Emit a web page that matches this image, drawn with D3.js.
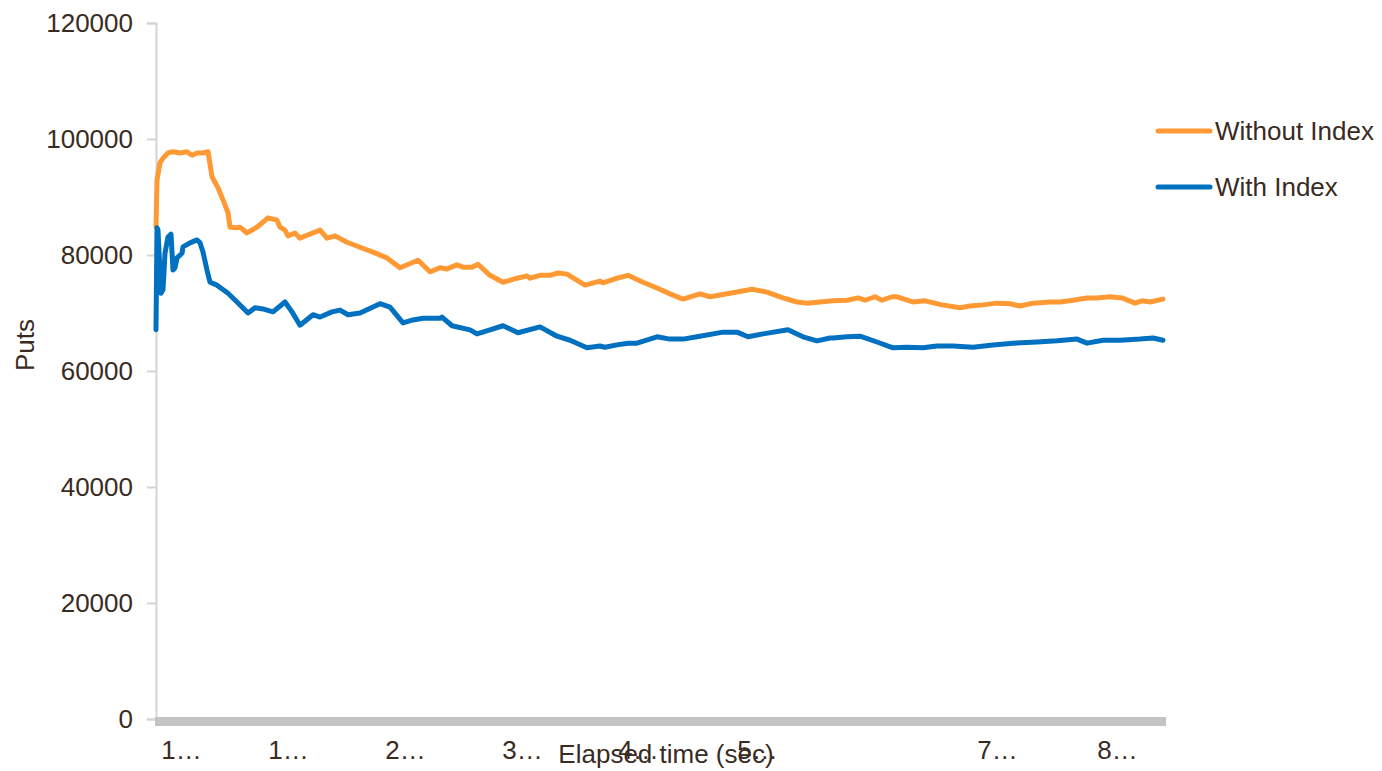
<!DOCTYPE html>
<html>
<head>
<meta charset="utf-8">
<script src="https://cdn.jsdelivr.net/npm/d3@7"></script>
<style>
  html, body { margin: 0; padding: 0; background: #fff; }
  svg text { font-family: "Liberation Sans", Arial, sans-serif; fill: #3a2b1f; }
</style>
</head>
<body>
<svg id="chart" width="1382" height="771"></svg>
<script>
// ---- data (x = sample position along elapsed time, y = Puts) ----
const withoutIndexX = [0,1,4,7,12,17,24,31,36,41,47,52,56,62,67,72,74,81,84,91,101,112,121,124,129,132,139,144,151,164,171,179,191,206,217,231,244,262,274,284,291,301,307,316,322,334,347,361,371,374,384,394,402,411,429,444,447,459,472,487,501,514,527,544,554,574,596,611,627,641,651,664,677,691,702,709,719,726,736,741,757,769,786,804,814,827,841,854,864,877,894,904,917,931,941,954,966,979,986,994,1007];
const withoutIndexY = [84800,92900,95900,96700,97600,97800,97600,97800,97200,97600,97600,97800,93500,91600,89500,87300,84800,84700,84800,83800,84800,86400,86000,84800,84300,83300,83800,82900,83400,84300,82900,83300,82200,81200,80500,79500,77800,79100,77100,77800,77600,78300,77900,77900,78400,76500,75300,76000,76400,76000,76500,76500,76900,76700,74800,75500,75200,75900,76500,75300,74300,73300,72400,73300,72800,73400,74100,73600,72600,71900,71700,71900,72100,72200,72600,72200,72800,72200,72800,72800,71900,72100,71400,70900,71200,71400,71700,71600,71200,71700,71900,71900,72200,72600,72600,72800,72600,71700,72100,71900,72400];

const withIndexX = [0,1,2,5,7,9,12,15,17,19,21,26,27,34,41,44,47,51,54,61,72,81,92,99,107,117,129,136,144,157,164,176,184,192,204,224,234,247,257,267,284,286,296,314,321,334,347,362,384,401,414,431,444,449,461,472,481,501,514,527,541,567,581,592,607,632,647,661,674,677,691,704,721,737,751,767,781,797,817,837,857,881,901,921,931,947,964,984,997,1007];
const withIndexY = [67100,84700,84300,73400,74000,80300,83100,83600,77400,77800,79500,80300,81400,82100,82600,82100,80500,77400,75300,74800,73400,71900,70000,70900,70700,70200,71900,70200,67900,69700,69300,70200,70500,69700,70000,71600,71000,68300,68800,69100,69100,69300,67800,67100,66400,67100,67800,66600,67600,66000,65300,64000,64300,64100,64500,64800,64800,65900,65500,65500,65900,66700,66700,65900,66400,67100,65900,65200,65700,65700,65900,66000,65000,64000,64100,64000,64300,64300,64100,64500,64800,65000,65200,65500,64800,65300,65300,65500,65700,65300];

const yTicks = [0,20000,40000,60000,80000,100000,120000];
const xTickPos = [25,132,249,366,482,601,841,961];
const xTickLabels = ["1\u2026","1\u2026","2\u2026","3\u2026","4\u2026","5\u2026","7\u2026","8\u2026"];

const seriesNames = ["Without Index","With Index"];
const seriesColors = ["#FF9933","#0070C0"];

// ---- drawing ----
const FS = "26px";
const svg = d3.select("#chart");
const x = d3.scaleLinear().domain([0, 1009]).range([156, 1165]);
const y = d3.scaleLinear().domain([0, 120000]).range([719, 23]);

// y axis
const yAxis = svg.append("g").attr("transform", "translate(156,0)")
  .call(d3.axisLeft(y).tickValues(yTicks).tickSize(9).tickPadding(14).tickFormat(d3.format("d")));
yAxis.select(".domain").attr("stroke", "#d4d4d4").attr("stroke-width", 2);
yAxis.selectAll(".tick line").attr("stroke", "#d4d4d4").attr("stroke-width", 2);
yAxis.selectAll(".tick text").style("font-size", FS).attr("fill", "#3a2b1f");

// x axis band
svg.append("rect").attr("x", 155).attr("y", 717).attr("width", 1011).attr("height", 9).attr("fill", "#c3c3c3");

const xAxis = svg.append("g").attr("transform", "translate(0,726)")
  .call(d3.axisBottom(x).tickValues(xTickPos).tickSize(0).tickPadding(15).tickFormat((d, i) => xTickLabels[i]));
xAxis.select(".domain").remove();
xAxis.selectAll(".tick text").style("font-size", FS).attr("fill", "#3a2b1f");

// axis titles
svg.append("text").attr("x", 666).attr("y", 763).attr("text-anchor", "middle")
  .style("font-size", FS).text("Elapsed time (sec)");
svg.append("text").attr("transform", "translate(34,345) rotate(-90)").attr("text-anchor", "middle")
  .style("font-size", FS).text("Puts");

// lines
const line = d3.line().x(d => x(d[0])).y(d => y(d[1]));
const series = [
  d3.zip(withoutIndexX, withoutIndexY),
  d3.zip(withIndexX, withIndexY)
];
series.forEach((s, i) => {
  svg.append("path").datum(s).attr("d", line)
    .attr("fill", "none").attr("stroke", seriesColors[i])
    .attr("stroke-width", 5).attr("stroke-linejoin", "round").attr("stroke-linecap", "round");
});

// legend
const leg = svg.append("g");
seriesNames.forEach((n, i) => {
  const yy = 131 + i * 56;
  leg.append("line").attr("x1", 1158).attr("x2", 1210).attr("y1", yy).attr("y2", yy)
    .attr("stroke", seriesColors[i]).attr("stroke-width", 5).attr("stroke-linecap", "round");
  leg.append("text").attr("x", 1215).attr("y", yy + 9).style("font-size", FS).text(n);
});
</script>
</body>
</html>
